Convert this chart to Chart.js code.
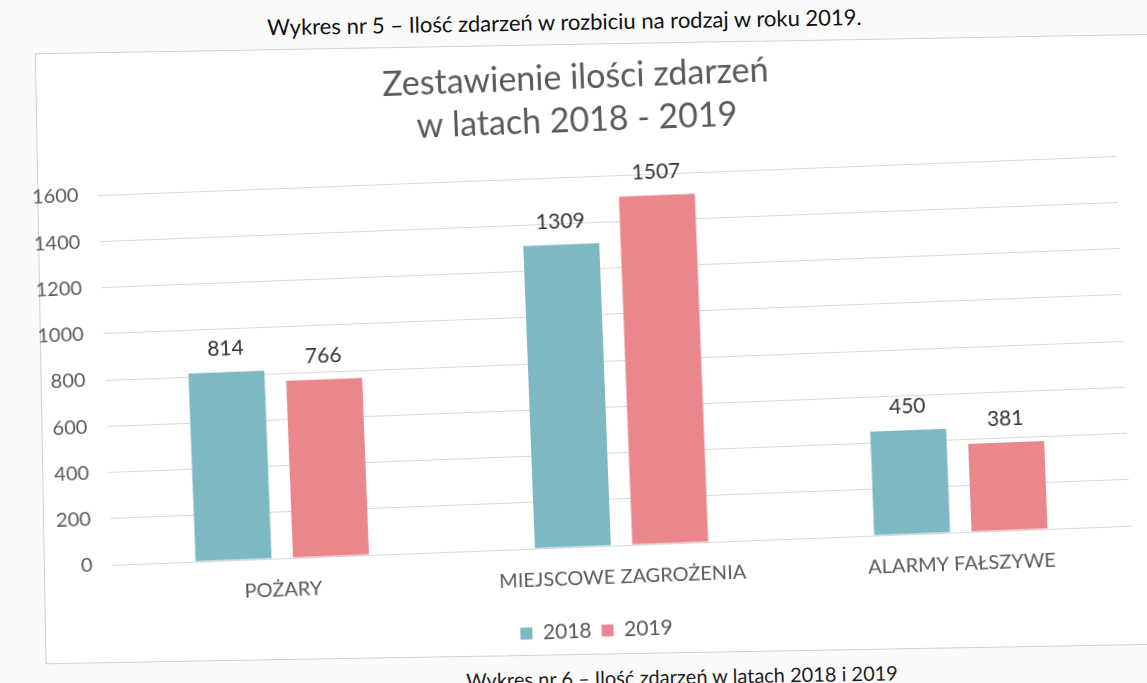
<!DOCTYPE html>
<html lang="pl">
<head>
<meta charset="utf-8">
<title>Zestawienie ilości zdarzeń w latach 2018 - 2019</title>
<script src="https://cdn.jsdelivr.net/npm/chart.js@4/dist/chart.umd.min.js"></script>
<style>
    html, body {
        margin: 0;
        width: 1147px;
        height: 683px;
        overflow: hidden;
        background: #fafafa;
        font-family: Lato, "Open Sans", sans-serif;
    }
    #page {
        position: absolute;
        left: 0;
        top: 0;
        width: 1147px;
        height: 683px;
        transform: rotate(-1deg);
        transform-origin: 573px 341px;
    }
    #caption-top {
        position: absolute;
        left: 0;
        top: 8px;
        width: 1140px;
        text-align: center;
        font-size: 22px;
        color: #111111;
    }
    #frame {
        position: absolute;
        left: 40px;
        top: 44px;
        width: 1160px;
        height: 609px;
        border: 1px solid #cfcfcf;
        background: #ffffff;
    }
    #chart-box {
        position: absolute;
        left: -25px;
        top: 0;
        width: 1137px;
        height: 609px;
        transform: rotate(-1.2deg);
        transform-origin: 558px 297px;
    }
    #caption-bottom {
        position: absolute;
        right: 255px;
        top: 666px;
        font-size: 20px;
        color: #1e1e1e;
        white-space: nowrap;
    }
</style>
</head>
<body>
<div id="page">
    <div id="caption-top">Wykres nr 5 – Ilość zdarzeń w rozbiciu na rodzaj w roku 2019.</div>
    <div id="frame">
        <div id="chart-box"><canvas id="chart"></canvas></div>
    </div>
    <div id="caption-bottom">Wykres nr 6 – Ilość zdarzeń w latach 2018 i 2019</div>
</div>

<script>
const categories = ["POŻARY", "MIEJSCOWE ZAGROŻENIA", "ALARMY FAŁSZYWE"];
const years = ["2018", "2019"];
const values2018 = [814, 1309, 450];
const values2019 = [766, 1507, 381];
const yTicks = [0, 200, 400, 600, 800, 1000, 1200, 1400, 1600];

const colors = ["#7eb9c3", "#e9878c"];
const textColor = "#595959";
const fontName = "Lato, 'Open Sans', sans-serif";

// draws the number above each bar
const barLabels = {
    id: "barLabels",
    afterDatasetsDraw(chart) {
        const ctx = chart.ctx;
        ctx.save();
        ctx.font = "21px " + fontName;
        ctx.fillStyle = "#333333";
        ctx.textAlign = "center";
        ctx.textBaseline = "bottom";
        chart.data.datasets.forEach((ds, i) => {
            chart.getDatasetMeta(i).data.forEach((bar, j) => {
                ctx.fillText(ds.data[j], bar.x, bar.y - 13);
            });
        });
        ctx.restore();
    }
};

new Chart(document.getElementById("chart"), {
    type: "bar",
    data: {
        labels: categories,
        datasets: [
            { label: years[0], data: values2018, backgroundColor: colors[0] },
            { label: years[1], data: values2019, backgroundColor: colors[1] }
        ]
    },
    options: {
        responsive: true,
        maintainAspectRatio: false,
        animation: false,
        layout: {
            padding: { left: 2, right: 0, top: 0, bottom: 2 }
        },
        datasets: {
            bar: { categoryPercentage: 0.574, barPercentage: 0.78 }
        },
        plugins: {
            title: {
                display: true,
                text: ["Zestawienie ilości zdarzeń", "w latach 2018 - 2019"],
                color: textColor,
                font: { family: fontName, size: 34, weight: "normal", lineHeight: 1.25 },
                padding: { top: 12, bottom: 35 }
            },
            legend: {
                position: "bottom",
                labels: {
                    color: textColor,
                    font: { family: fontName, size: 21 },
                    boxWidth: 12,
                    boxHeight: 12,
                    padding: 10
                }
            },
            tooltip: { enabled: false }
        },
        scales: {
            x: {
                grid: { display: false, drawTicks: false },
                border: { color: "#d9d9d9" },
                ticks: {
                    color: textColor,
                    font: { family: fontName, size: 20 },
                    padding: 20
                }
            },
            y: {
                min: 0,
                max: 1600,
                afterBuildTicks: (axis) => {
                    axis.ticks = yTicks.map((v) => ({ value: v }));
                },
                grid: { color: "#d9d9d9", drawTicks: false },
                border: { display: false },
                ticks: {
                    color: textColor,
                    font: { family: fontName, size: 20 },
                    padding: 20,
                    callback: (value) => String(value)
                }
            },
            // empty strip on the right so the title sits left of the plot centre
            yRight: {
                position: "right",
                grid: { display: false, drawTicks: false },
                border: { display: false },
                ticks: { display: false },
                afterFit: (axis) => {
                    axis.width = 30;
                }
            }
        }
    },
    plugins: [barLabels]
});
</script>
</body>
</html>
